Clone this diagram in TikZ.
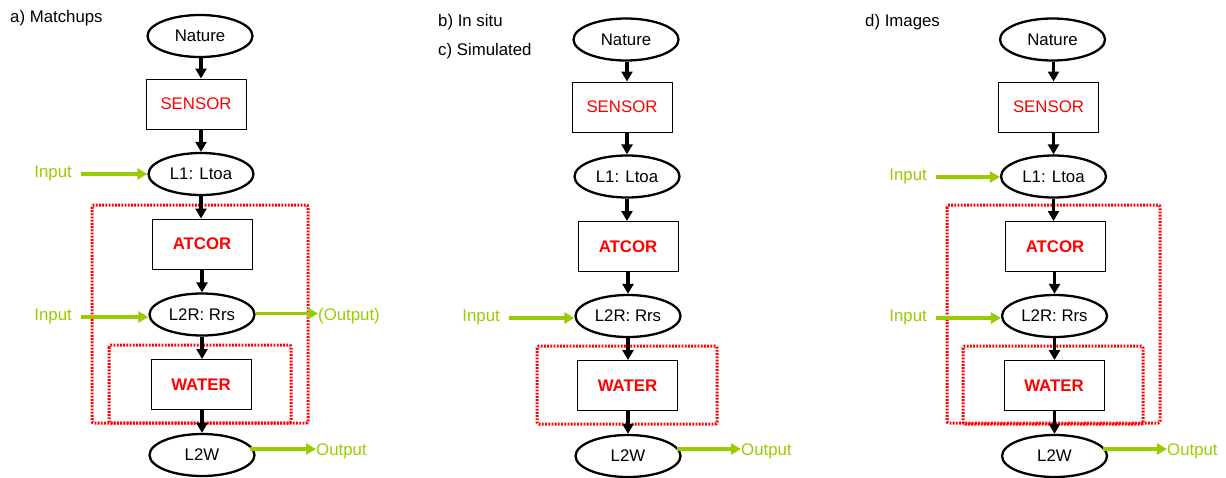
\documentclass[tikz,border=0pt]{standalone}
\usepackage{fontspec}
\setmainfont{Liberation Sans}
\usetikzlibrary{arrows.meta,shapes.geometric}
\definecolor{lgreen}{RGB}{153,204,0}
\tikzset{
  txt/.style={font=\fontsize{16.8}{18}\selectfont, inner sep=0pt},
  ell/.style={txt, ellipse, draw, line width=2.3pt, minimum width=105pt, minimum height=42pt},
  procbox/.style={txt, rectangle, draw, line width=1pt, minimum width=100pt, minimum height=50pt, text=red},
  boldbox/.style={procbox, font=\fontsize{16.8}{18}\selectfont\bfseries},
  flow/.style={-{Triangle[length=10pt,width=11pt]}, line width=3.2pt},
  garrow/.style={-{Triangle[length=10pt,width=11pt]}, line width=3.4pt, lgreen},
  gtxt/.style={txt, text=lgreen},
  redbox/.style={draw=red, line width=3pt, dash pattern=on 1.8pt off 1.4pt, rounded corners=2pt}
}
\begin{document}
\begin{tikzpicture}[x=1pt,y=-1pt]
\useasboundingbox (0,0) rectangle (1226,477);

% ---------- red dotted frames ----------
\draw[redbox] (92,205) rectangle (308,423);
\draw[redbox] (109,345) rectangle (291,423);
\draw[redbox] (537,346) rectangle (717,424);
\draw[redbox] (947,205) rectangle (1160,423);
\draw[redbox] (963,346) rectangle (1143,424);

% ---------- panel a ----------
\node[txt, anchor=base west] (ta) at (10,22) {a) Matchups};
\node[ell] (aN) at (200,36) {Nature};
\node[procbox] (aS) at (196,104) {SENSOR};
\node[ell] (aL1) at (201,174) {L1: Ltoa};
\node[boldbox] (aA) at (202,244) {ATCOR};
\node[ell] (aL2) at (202,314.5) {L2R: Rrs};
\node[boldbox] (aW) at (201,384.5) {WATER};
\node[ell] (aL3) at (202,455) {L2W};
\draw[flow] (aN.south -| aL1) -- (aL1 |- aS.north);
\draw[flow] (aL1 |- aS.south) -- (aL1.north);
\draw[flow] (aL1.south) -- (aL1 |- aA.north);
\draw[flow] (aL2 |- aA.south) -- (aL2.north);
\draw[flow] (aL2.south) -- (aL2 |- aW.north);
\draw[flow] (aL3 |- aW.south) -- (aL3.north);
\node[gtxt, anchor=base east] (aI1) at (72,177) {Input};
\coordinate (aI1s) at (81,174);
\draw[garrow] (aI1s) -- (aI1s -| aL1.west);
\node[gtxt, anchor=base east] (aI2) at (72,320) {Input};
\coordinate (aI2s) at (81,317);
\draw[garrow] (aI2s) -- (aI2s -| aL2.west);
\node[gtxt, anchor=base west] (aO1) at (318,320) {(Output)};
\draw[garrow] ([yshift=1pt]aL2.east) -- ([yshift=1pt]aL2.east -| aO1.west);
\node[gtxt, anchor=base west] (aO2) at (316,455) {Output};
\coordinate (aO2s) at (250,449);
\draw[garrow] (aO2s) -- (aO2s -| aO2.west);

% ---------- panel b/c ----------
\node[txt, anchor=base west] (tb) at (438,26) {b) In situ};
\node[txt, anchor=base west] (tc) at (438,55) {c) Simulated};
\node[ell] (bN) at (626,39.5) {Nature};
\node[procbox] (bS) at (622,107) {SENSOR};
\node[ell] (bL1) at (627,176.5) {L1: Ltoa};
\node[boldbox] (bA) at (628,246.5) {ATCOR};
\node[ell] (bL2) at (628,316) {L2R: Rrs};
\node[boldbox] (bW) at (627.5,385.5) {WATER};
\node[ell] (bL3) at (628,456) {L2W};
\draw[flow] (bN.south -| bL1) -- (bL1 |- bS.north);
\draw[flow] (bL1 |- bS.south) -- (bL1.north);
\draw[flow] (bL1.south) -- (bL1 |- bA.north);
\draw[flow] (bL2 |- bA.south) -- (bL2.north);
\draw[flow] (bL2.south) -- (bL2 |- bW.north);
\draw[flow] (bL3 |- bW.south) -- (bL3.north);
\node[gtxt, anchor=base east] (bI2) at (500,321) {Input};
\coordinate (bI2s) at (509,318);
\draw[garrow] (bI2s) -- (bI2s -| bL2.west);
\node[gtxt, anchor=base west] (bO2) at (741,455) {Output};
\coordinate (bO2s) at (677,449);
\draw[garrow] (bO2s) -- (bO2s -| bO2.west);

% ---------- panel d ----------
\node[txt, anchor=base west] (td) at (865,26) {d) Images};
\node[ell] (dN) at (1052.5,39.5) {Nature};
\node[procbox] (dS) at (1048.5,107) {SENSOR};
\node[ell] (dL1) at (1053.5,176.5) {L1: Ltoa};
\node[boldbox] (dA) at (1055,246.5) {ATCOR};
\node[ell] (dL2) at (1054.5,316) {L2R: Rrs};
\node[boldbox] (dW) at (1054,385.5) {WATER};
\node[ell] (dL3) at (1054.5,456) {L2W};
\draw[flow] (dN.south -| dL1) -- (dL1 |- dS.north);
\draw[flow] (dL1 |- dS.south) -- (dL1.north);
\draw[flow] (dL1.south) -- (dL1 |- dA.north);
\draw[flow] (dL2 |- dA.south) -- (dL2.north);
\draw[flow] (dL2.south) -- (dL2 |- dW.north);
\draw[flow] (dL3 |- dW.south) -- (dL3.north);
\node[gtxt, anchor=base east] (dI1) at (927,180) {Input};
\coordinate (dI1s) at (936,177);
\draw[garrow] (dI1s) -- (dI1s -| dL1.west);
\node[gtxt, anchor=base east] (dI2) at (927,321) {Input};
\coordinate (dI2s) at (936,318);
\draw[garrow] (dI2s) -- (dI2s -| dL2.west);
\node[gtxt, anchor=base west] (dO2) at (1167,455) {Output};
\coordinate (dO2s) at (1103,449);
\draw[garrow] (dO2s) -- (dO2s -| dO2.west);
\end{tikzpicture}
\end{document}
